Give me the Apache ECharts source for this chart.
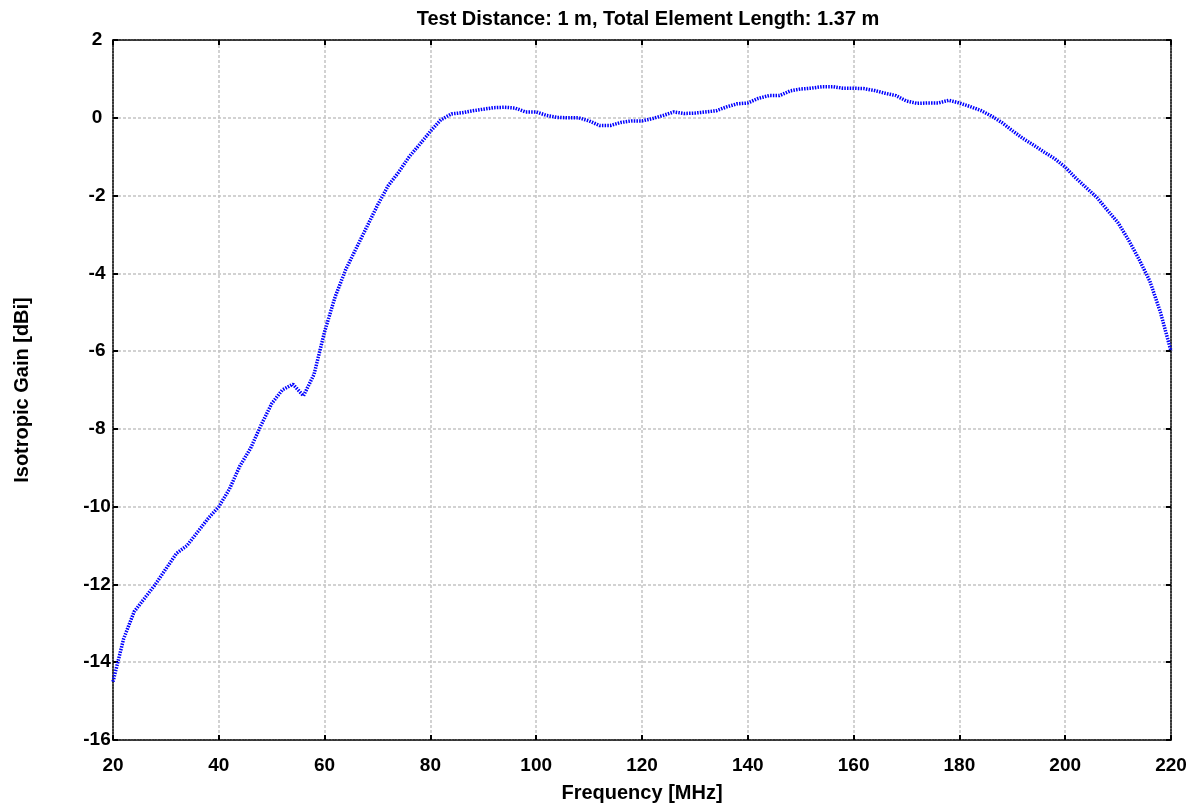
<!DOCTYPE html>
<html>
<head>
<meta charset="utf-8">
<script src="https://cdn.jsdelivr.net/npm/echarts@6/dist/echarts.min.js"></script>
<style>
html,body{margin:0;padding:0;background:#fff;}
#chart{width:1199px;height:808px;}
</style>
</head>
<body>
<div id="chart"></div>
<script>
const titleText = 'Test Distance: 1 m, Total Element Length: 1.37 m';
const xName = 'Frequency [MHz]';
const yName = 'Isotropic Gain [dBi]';
const frequencies = [20,22,24,26,28,30,32,34,36,38,40,42,44,46,48,50,52,54,56,58,60,62,64,66,68,70,72,74,76,78,80,82,84,86,88,90,92,94,96,98,100,102,104,106,108,110,112,114,116,118,120,122,124,126,128,130,132,134,136,138,140,142,144,146,148,150,152,154,156,158,160,162,164,166,168,170,172,174,176,178,180,182,184,186,188,190,192,194,196,198,200,202,204,206,208,210,212,214,216,218,219,220];
const gains = [-14.5,-13.4,-12.7,-12.35,-12.0,-11.6,-11.2,-11.0,-10.65,-10.3,-10.0,-9.55,-8.95,-8.5,-7.9,-7.35,-7.0,-6.85,-7.15,-6.6,-5.5,-4.6,-3.9,-3.35,-2.8,-2.25,-1.75,-1.4,-1.0,-0.68,-0.35,-0.05,0.1,0.13,0.18,0.22,0.26,0.27,0.25,0.15,0.15,0.06,0.01,0.0,0.0,-0.08,-0.2,-0.2,-0.12,-0.08,-0.08,-0.02,0.06,0.15,0.11,0.12,0.15,0.18,0.28,0.36,0.38,0.5,0.57,0.57,0.69,0.74,0.76,0.8,0.8,0.76,0.76,0.75,0.7,0.63,0.57,0.43,0.37,0.38,0.38,0.45,0.38,0.29,0.19,0.05,-0.12,-0.33,-0.53,-0.7,-0.88,-1.05,-1.27,-1.55,-1.8,-2.05,-2.38,-2.7,-3.15,-3.65,-4.2,-5.0,-5.5,-6.0];
const xMin = 20, xMax = 220, xStep = 20;
const yMin = -16, yMax = 2, yStep = 2;

const FONT = '"Liberation Sans", Arial, sans-serif';
const frameLine = {show:true, onZero:false, lineStyle:{color:'#000', width:1.5, type:[2,1]}};
const tick = {show:true, inside:true, length:5, lineStyle:{color:'#000', width:2}};
const grid = {show:true, lineStyle:{color:'#c4c4c4', width:1.5, type:[3,2]}};
const labelStyle = {color:'#000', fontFamily:FONT, fontWeight:'bold', fontSize:19};

const chart = echarts.init(document.getElementById('chart'), null, {renderer:'canvas'});
chart.setOption({
  animation:false,
  backgroundColor:'#fff',
  title:{text:titleText, left:643, top:4, textAlign:'center',
    textStyle:{color:'#000', fontFamily:FONT, fontWeight:'bold', fontSize:20}},
  grid:{left:113, right:28, top:40, bottom:65, containLabel:false},
  xAxis:[
    {type:'value', position:'bottom', min:xMin, max:xMax, interval:xStep,
     axisLine:frameLine, axisTick:tick, splitLine:grid,
     axisLabel:Object.assign({margin:16}, labelStyle),
     name:xName, nameLocation:'middle', nameGap:43,
     nameTextStyle:{color:'#000', fontFamily:FONT, fontWeight:'bold', fontSize:20}},
    {type:'value', position:'top', min:xMin, max:xMax, interval:xStep,
     axisLine:frameLine, axisTick:tick, splitLine:{show:false}, axisLabel:{show:false}}
  ],
  yAxis:[
    {type:'value', position:'left', min:yMin, max:yMax, interval:yStep,
     axisLine:frameLine, axisTick:tick, splitLine:grid,
     axisLabel:Object.assign({margin:16, align:'center'}, labelStyle),
     name:yName, nameLocation:'middle', nameGap:81, nameRotate:90,
     nameTextStyle:{color:'#000', fontFamily:FONT, fontWeight:'bold', fontSize:20}},
    {type:'value', position:'right', min:yMin, max:yMax, interval:yStep,
     axisLine:frameLine, axisTick:tick, splitLine:{show:false}, axisLabel:{show:false}}
  ],
  series:[{
    type:'line', xAxisIndex:0, yAxisIndex:0,
    data: frequencies.map((f,i)=>[f, gains[i]]),
    showSymbol:false, symbol:'none',
    lineStyle:{color:'#0000ff', width:3.5, type:[1.5,1.2], cap:'butt'},
    clip:true
  }]
});
</script>
</body>
</html>
